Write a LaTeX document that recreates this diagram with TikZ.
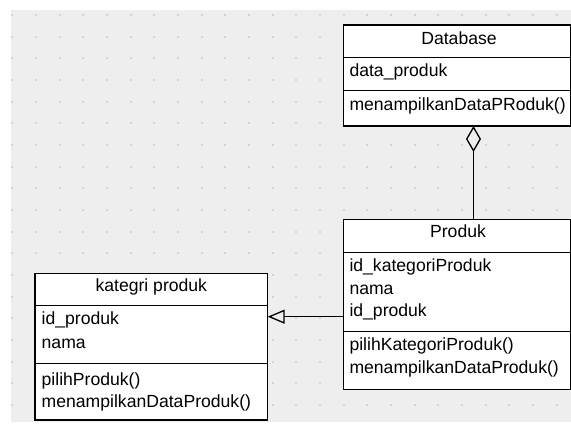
\documentclass[tikz,border=0pt]{standalone}
\usepackage{fontspec}
\setmainfont{Liberation Sans}
\usetikzlibrary{arrows.meta}
\definecolor{canvas}{HTML}{EEEEEE}
\definecolor{griddot}{HTML}{D4D4D4}
\begin{document}
\begin{tikzpicture}[x=1pt,y=-1pt,
  classbox/.style={draw=black, line width=1.3pt, fill=white, inner sep=0pt, outer sep=0pt, anchor=north west},
  sepline/.style={draw=black, line width=1.3pt},
  member/.style={anchor=base west, inner sep=0pt, font=\fontsize{17.6}{20}\selectfont},
  classname/.style={anchor=base, inner sep=0pt, font=\fontsize{17.6}{20}\selectfont},
  connector/.style={draw=black, line width=1.3pt},
  aggregation/.style={connector, -{Diamond[open, length=26pt, width=15pt]}},
  generalization/.style={connector, -{Triangle[open, length=17pt, width=14pt]}}]
\useasboundingbox (0,0) rectangle (571,425);

% canvas with dotted grid
\fill[canvas] (11,10) rectangle (571,422);
\foreach \i in {0,...,23}
  \foreach \j in {0,...,18}
    \fill[griddot] ({12.3+23.67*\i-1},{15+21.67*\j-1}) rectangle +(2,2);

% class Database
\node[classbox, minimum width=227pt, minimum height=101pt] (db) at (343.3,25) {};
\draw[sepline] ([yshift=-32.3pt]db.north west) -- ([yshift=-32.3pt]db.north east);
\draw[sepline] ([yshift=-65.7pt]db.north west) -- ([yshift=-65.7pt]db.north east);
\node[classname] (dbname) at (459,44.3) {Database};
\node[member] (dbattr1) at (349.3,76.7) {data\_produk};
\node[member] (dbop1) at (349.3,110.5) {menampilkanDataPRoduk()};

% class Produk
\node[classbox, minimum width=227pt, minimum height=170pt] (prod) at (343.3,219.3) {};
\draw[sepline] ([yshift=-33pt]prod.north west) -- ([yshift=-33pt]prod.north east);
\draw[sepline] ([yshift=-112.4pt]prod.north west) -- ([yshift=-112.4pt]prod.north east);
\node[classname] (prodname) at (458,237.3) {Produk};
\node[member] (prodattr1) at (349.3,272) {id\_kategoriProduk};
\node[member] (prodattr2) at (349.3,294.3) {nama};
\node[member] (prodattr3) at (349.3,316.6) {id\_produk};
\node[member] (prodop1) at (349.3,350) {pilihKategoriProduk()};
\node[member] (prodop2) at (349.3,373) {menampilkanDataProduk()};

% class kategri produk
\node[classbox, minimum width=232.7pt, minimum height=146.7pt] (kat) at (35,273.3) {};
\draw[sepline] ([yshift=-32.4pt]kat.north west) -- ([yshift=-32.4pt]kat.north east);
\draw[sepline] ([yshift=-90pt]kat.north west) -- ([yshift=-90pt]kat.north east);
\node[classname] (katname) at (151.3,291.7) {kategri produk};
\node[member] (katattr1) at (41.5,324.3) {id\_produk};
\node[member] (katattr2) at (41.5,348.3) {nama};
\node[member] (katop1) at (41.5,385.5) {pilihProduk()};
\node[member] (katop2) at (41.5,407) {menampilkanDataProduk()};

% relations
\draw[aggregation] ([xshift=16.7pt]prod.north) -- ([xshift=16.7pt]db.south);
\coordinate (genstart) at ([yshift=-12.4pt]prod.west);
\draw[generalization] (genstart) -- (genstart -| kat.east);
\end{tikzpicture}
\end{document}
